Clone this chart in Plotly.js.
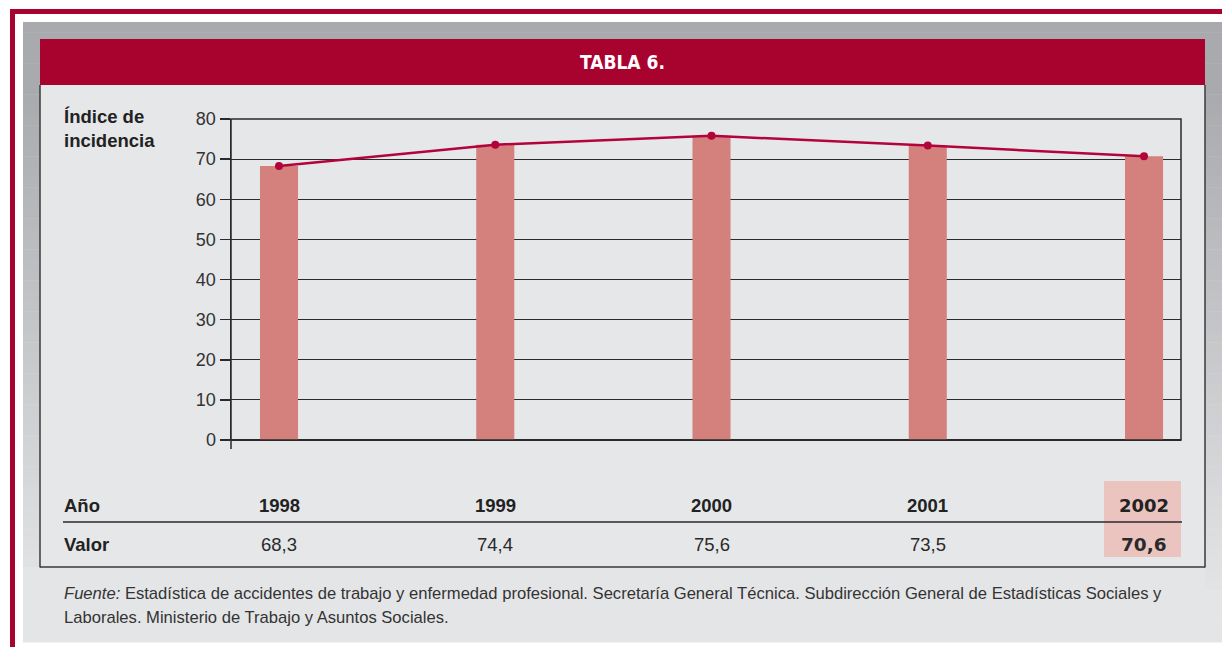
<!DOCTYPE html>
<html>
<head>
<meta charset="utf-8">
<script src="https://cdn.plot.ly/plotly-3.0.1.min.js"></script>
<style>html,body{margin:0;padding:0;background:#fff;}</style>
</head>
<body>
<div id="chart" style="width:1222px;height:647px;"></div>
<script>
// ---- data ----
const years = ["1998", "1999", "2000", "2001", "2002"];
const plottedValues = [68.3, 73.6, 75.8, 73.4, 70.7];   // as drawn in the chart
const tableValues = ["68,3", "74,4", "75,6", "73,5", "70,6"]; // as printed in the table
const yTicks = [0, 10, 20, 30, 40, 50, 60, 70, 80];
const titleText = "TABLA 6.";
const yTitleLines = ["Índice de", "incidencia"];
const rowLabels = ["Año", "Valor"];
const sourceLines = [
  "<i>Fuente:</i> Estadística de accidentes de trabajo y enfermedad profesional. Secretaría General Técnica. Subdirección General de Estadísticas Sociales y",
  "Laborales. Ministerio de Trabajo y Asuntos Sociales."
];

// ---- geometry helpers (pixel -> paper) ----
const W = 1222, H = 647;
const L = 231, R = 1181, T = 119, B = 440;
const X = px => (px - L) / (R - L);
const Y = py => (B - py) / (B - T);

const RED = "#a8032f";
const FONT = "Liberation Sans, Arial, Helvetica, sans-serif";
const NARROW = "Liberation Sans Narrow, DejaVu Sans Condensed, Arial Narrow, sans-serif";

const shapes = [];
function rect(x0, y0, x1, y1, fill, line, layer) {
  shapes.push({type: "rect", xref: "paper", yref: "paper",
    x0: X(x0), x1: X(x1), y0: Y(y0), y1: Y(y1),
    fillcolor: fill || "rgba(0,0,0,0)",
    line: line || {width: 0}, layer: layer || "below"});
}
function seg(x0, y0, x1, y1, color, width, layer) {
  shapes.push({type: "line", xref: "paper", yref: "paper",
    x0: X(x0), x1: X(x1), y0: Y(y0), y1: Y(y1),
    line: {color: color, width: width}, layer: layer || "below"});
}

// outer red border
rect(10, 9, 1222, 14, RED);
rect(10, 9, 15, 647, RED);
// gray frame with vertical gradient (banded)
const c0 = [169, 170, 173], c1 = [228, 229, 231];
const gTop = 22, gBot = 642, nb = 60;
for (let i = 0; i < nb; i++) {
  const y0 = gTop + (gBot - gTop) * i / nb, y1 = gTop + (gBot - gTop) * (i + 1) / nb + 0.5;
  let t = ((y0 + y1) / 2 - 90) / (600 - 90);
  t = Math.max(0, Math.min(1, t));
  const c = c0.map((v, k) => Math.round(v + (c1[k] - v) * t));
  rect(23, y0, 1222, y1, `rgb(${c.join(",")})`);
}
// footer area (light)
rect(23, 567, 1205, 642, "#e4e5e7");
// inner panel
rect(40, 85, 1205, 567, "#e6e7e9");
seg(40, 85, 40, 567.5, "#3a3a3a", 1.5);
seg(1205, 85, 1205, 567.5, "#3a3a3a", 1.5);
seg(40, 567, 1205, 567, "#3a3a3a", 1.5);
// header band
rect(40, 39, 1205, 85, RED);
// highlight box for 2002
rect(1104, 481, 1181, 557, "#ebc4c0");
// table separator
seg(63, 522, 1182, 522, "#2a2a2a", 1.5);
// plot frame
shapes.push({type: "rect", xref: "paper", yref: "paper", x0: 0, x1: 1, y0: 0, y1: 1,
  line: {color: "#2a2a2a", width: 1.5}, fillcolor: "rgba(0,0,0,0)", layer: "above"});
seg(231, 440, 231, 449, "#2a2a2a", 1.5, "above");

// ---- annotations ----
const ann = [];
ann.push({xref: "paper", yref: "paper", x: X(622), y: Y(62), xanchor: "center", yanchor: "middle",
  text: "<b>" + titleText + "</b>", showarrow: false, font: {family: NARROW, size: 19, color: "#ffffff"}});
yTitleLines.forEach((t, i) => ann.push({xref: "paper", yref: "paper", x: X(62), y: Y(116 + 24 * i),
  xanchor: "left", yanchor: "middle", text: "<b>" + t + "</b>", showarrow: false,
  font: {family: FONT, size: 18.5, color: "#222"}}));
rowLabels.forEach((t, i) => ann.push({xref: "paper", yref: "paper", x: X(62), y: Y(505 + 39 * i),
  xanchor: "left", yanchor: "middle", text: "<b>" + t + "</b>", showarrow: false,
  font: {family: FONT, size: 18.5, color: "#222"}}));
years.forEach((yr, i) => {
  const last = i === years.length - 1;
  ann.push({xref: "x", yref: "paper", x: i, y: Y(505), xanchor: "center", yanchor: "middle",
    text: "<b>" + yr + "</b>", showarrow: false,
    font: {family: last ? "DejaVu Sans, sans-serif" : FONT, size: last ? 18 : 18.5, color: "#222"}});
  ann.push({xref: "x", yref: "paper", x: i, y: Y(544), xanchor: "center", yanchor: "middle",
    text: last ? "<b>" + tableValues[i] + "</b>" : tableValues[i], showarrow: false,
    font: {family: last ? "DejaVu Sans, sans-serif" : FONT, size: 18.5, color: "#2a2a2a"}});
});
sourceLines.forEach((t, i) => ann.push({xref: "paper", yref: "paper", x: X(62), y: Y(593 + 24 * i),
  xanchor: "left", yanchor: "middle", text: t, showarrow: false,
  font: {family: FONT, size: 16.6, color: "#333"}}));

const idx = years.map((_, i) => i);
const traces = [
  {type: "bar", x: idx, y: plottedValues, width: 0.176,
   marker: {color: "#d4817d", line: {width: 0}}, hoverinfo: "skip", showlegend: false},
  {type: "scatter", mode: "lines+markers", x: idx, y: plottedValues,
   line: {color: "#b2043a", width: 2.5}, marker: {color: "#b2043a", size: 8},
   hoverinfo: "skip", showlegend: false}
];

const layout = {
  width: W, height: H, autosize: false,
  margin: {l: L, r: W - R, t: T, b: H - B, pad: 0},
  paper_bgcolor: "#ffffff", plot_bgcolor: "rgba(0,0,0,0)",
  showlegend: false,
  xaxis: {range: [-0.222, 4.171], showgrid: false, zeroline: false, showline: false,
    showticklabels: false, ticks: "", fixedrange: true},
  yaxis: {range: [0, 80], tickvals: yTicks, ticktext: yTicks.map(String),
    showgrid: true, gridcolor: "#2a2a2a", gridwidth: 1.2,
    zeroline: true, zerolinecolor: "#2a2a2a", zerolinewidth: 1.5,
    showline: true, linecolor: "#2a2a2a", linewidth: 1.5,
    ticks: "outside", ticklen: 10, tickwidth: 1.5, tickcolor: "#2a2a2a",
    tickfont: {family: FONT, size: 18, color: "#333"}, fixedrange: true},
  shapes: shapes,
  annotations: ann
};

Plotly.newPlot("chart", traces, layout, {staticPlot: true, displayModeBar: false});
</script>
</body>
</html>
